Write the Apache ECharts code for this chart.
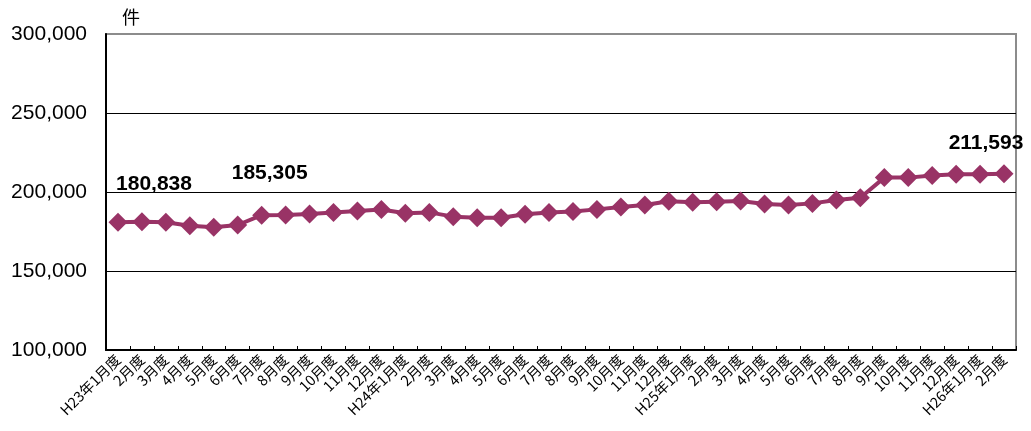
<!DOCTYPE html>
<html>
<head>
<meta charset="utf-8">
<script src="https://cdn.jsdelivr.net/npm/echarts@6/dist/echarts.min.js"></script>
<style>html,body{margin:0;padding:0;background:#fff}#c{width:1031px;height:431px}</style>
</head>
<body>
<div id="c"></div>
<script>
const categories = [
  'H23年1月度','2月度','3月度','4月度','5月度','6月度','7月度','8月度','9月度','10月度','11月度','12月度',
  'H24年1月度','2月度','3月度','4月度','5月度','6月度','7月度','8月度','9月度','10月度','11月度','12月度',
  'H25年1月度','2月度','3月度','4月度','5月度','6月度','7月度','8月度','9月度','10月度','11月度','12月度',
  'H26年1月度','2月度'
];
const values = [
  180838, 181200, 180800, 178700, 177700, 179100, 185305, 185500, 186100, 187000, 188000, 188900,
  186500, 187100, 184400, 183700, 183700, 185900, 187100, 187600, 189000, 190500, 191800, 194200,
  193500, 193900, 194300, 192400, 191800, 192800, 194900, 196400, 209100, 209100, 210400, 211200,
  211200, 211593
];
const yTicks = [100000, 150000, 200000, 250000, 300000];
const labeled = {0: [36, -38], 6: [8, -42], 37: [-18, -30]};

const chart = echarts.init(document.getElementById('c'));
chart.setOption({
  animation: false,
  grid: {left: 106, right: 15, top: 34, bottom: 81, show: true, borderColor: '#8c8c8c', borderWidth: 2, backgroundColor: 'transparent'},
  xAxis: {
    type: 'category', data: categories, boundaryGap: true,
    axisLine: {lineStyle: {color: '#000', width: 2}},
    axisTick: {show: true, inside: true, length: 4, lineStyle: {color: '#000'}},
    axisLabel: {rotate: 45, fontSize: 14.5, color: '#000', interval: 0, margin: 7, fontFamily: 'Noto Sans CJK JP'}
  },
  yAxis: {
    type: 'value', min: yTicks[0], max: yTicks[yTicks.length - 1], interval: 50000,
    name: '件', nameLocation: 'end', nameGap: 8,
    nameTextStyle: {fontSize: 18, color: '#000', align: 'left', padding: [0, 0, 0, 16], fontFamily: 'Noto Sans CJK JP'},
    axisLine: {show: true, lineStyle: {color: '#000', width: 2}},
    axisTick: {show: false},
    splitLine: {showMaxLine: false, showMinLine: false, lineStyle: {color: '#000', width: 1}},
    axisLabel: {fontSize: 21, color: '#000', margin: 19, fontFamily: 'Liberation Sans',
      formatter: v => v.toLocaleString('en-US')}
  },
  series: [{
    type: 'line',
    data: values.map((v, i) => {
      const o = {value: v};
      if (labeled[i]) {
        o.label = {show: true, offset: labeled[i], position: 'inside',
          formatter: p => p.value.toLocaleString('en-US'),
          fontSize: 21, fontWeight: 'bold', color: '#000', fontFamily: 'Liberation Sans'};
      }
      return o;
    }),
    symbol: 'diamond', symbolSize: 19,
    lineStyle: {color: '#993366', width: 4},
    itemStyle: {color: '#993366'},
    label: {show: false}
  }]
});
</script>
</body>
</html>
